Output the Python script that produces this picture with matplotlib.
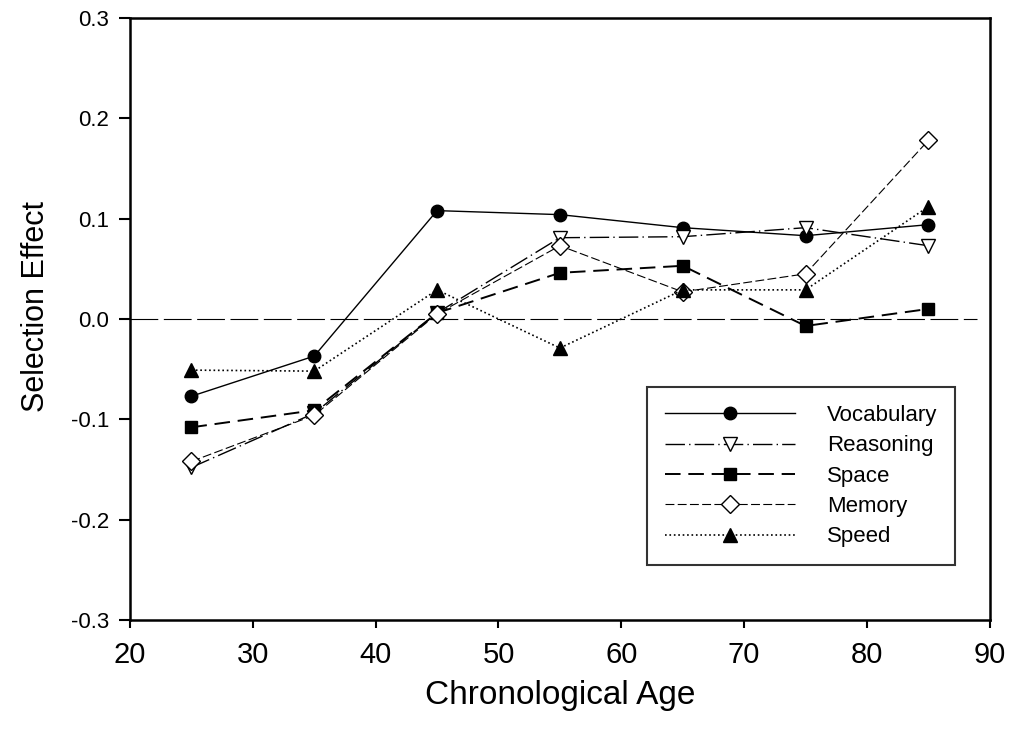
import numpy as np
import matplotlib.pyplot as plt

plt.rcParams['font.family'] = ['Liberation Sans', 'DejaVu Sans']

# Values
ages = [25, 35, 45, 55, 65, 75, 85]
vocabulary = [-0.077, -0.037, 0.108, 0.104, 0.091, 0.083, 0.094]
reasoning = [-0.148, -0.094, 0.006, 0.081, 0.082, 0.091, 0.073]
space = [-0.108, -0.091, 0.006, 0.046, 0.053, -0.007, 0.010]
memory = [-0.142, -0.096, 0.005, 0.073, 0.027, 0.045, 0.178]
speed = [-0.051, -0.052, 0.029, -0.029, 0.029, 0.029, 0.112]

xticks = [20, 30, 40, 50, 60, 70, 80, 90]
yticks = [-0.3, -0.2, -0.1, 0.0, 0.1, 0.2, 0.3]

fig = plt.figure(figsize=(10.11, 7.38), dpi=100)
ax = fig.add_axes([0.1286, 0.160, 0.8504, 0.8156])

# zero reference line
ax.axhline(0, color='black', lw=0.8, dashes=(25, 5), xmax=0.985, zorder=1)

ax.plot(ages, vocabulary, color='black', lw=1.0, ls='-', marker='o', ms=9,
        mfc='black', label='Vocabulary')
ax.plot(ages, reasoning, color='black', lw=1.0, dashes=(14, 3, 1, 3),
        marker='v', ms=10, mfc='white', label='Reasoning')
ax.plot(ages, space, color='black', lw=1.4, dashes=(8, 4), marker='s', ms=9,
        mfc='black', label='Space')
ax.plot(ages, memory, color='black', lw=0.8, dashes=(8, 3), marker='D', ms=9,
        mfc='white', label='Memory')
ax.plot(ages, speed, color='black', lw=1.2, ls=':', marker='^', ms=10,
        mfc='black', label='Speed')

ax.set_xlim(20, 90)
ax.set_ylim(-0.3, 0.3)
ax.set_xticks(xticks)
ax.set_yticks(yticks)
ax.set_yticklabels([f'{v:.1f}' for v in yticks])
ax.tick_params(axis='both', direction='out', width=1.5)
ax.tick_params(axis='x', length=6, labelsize=21, pad=9)
ax.tick_params(axis='y', length=8, labelsize=16, pad=7)
for s in ax.spines.values():
    s.set_linewidth(1.8)

ax.set_xlabel('Chronological Age', fontsize=24, labelpad=8)
ax.set_ylabel('Selection Effect', fontsize=22, labelpad=14)
ax.yaxis.label.set_y(0.52)

leg = ax.legend(loc='lower right', bbox_to_anchor=(0.9593, 0.0914), fontsize=16,
                frameon=True, fancybox=False, edgecolor='black',
                handlelength=5.85, handletextpad=1.44, borderpad=0.79,
                labelspacing=0.42, borderaxespad=0)
leg.get_frame().set_linewidth(1.5)

fig.savefig('out.png', dpi=100)
